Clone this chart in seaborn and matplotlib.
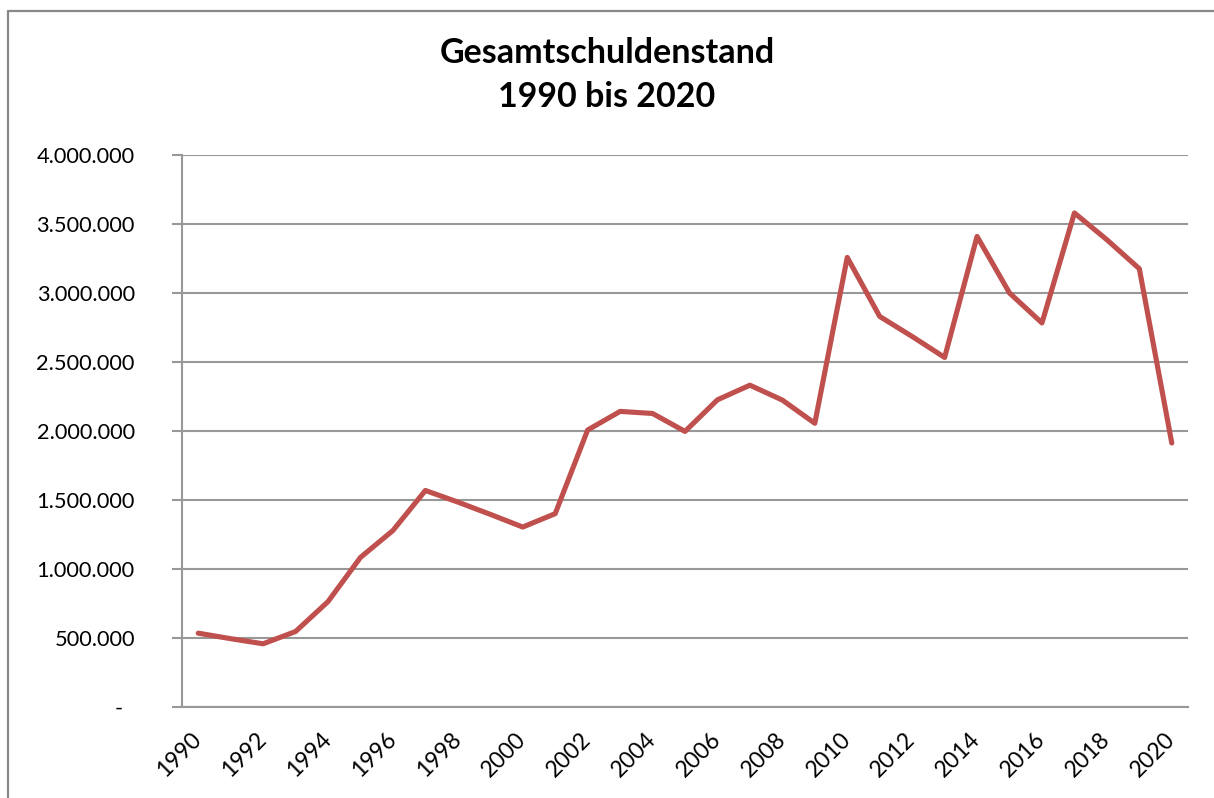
import matplotlib
matplotlib.use("Agg")
import matplotlib.pyplot as plt
import seaborn as sns
import pandas as pd
from matplotlib.ticker import FuncFormatter, FixedLocator
from matplotlib.lines import Line2D

years = list(range(1990, 2021))
values = [535000, 495000, 458000, 547000, 764000, 1084000, 1279000, 1569000,
          1485000, 1396000, 1304000, 1401000, 2007000, 2142000, 2127000, 1997000,
          2226000, 2332000, 2224000, 2056000, 3258000, 2830000, 2685000, 2533000,
          3410000, 3000000, 2783000, 3580000, 3386000, 3176000, 1913000]
title_text = "Gesamtschuldenstand\n1990 bis 2020"
label_years = list(range(1990, 2021, 2))

df = pd.DataFrame({"Jahr": years, "Schulden": values})

sns.set_style("white")
plt.rcParams["font.family"] = ["Lato", "DejaVu Sans"]
plt.rcParams["text.color"] = "black"

W, H = 1214, 798
fig = plt.figure(figsize=(W / 100, H / 100), dpi=100)
ax = fig.add_axes([182 / W, 1 - 707 / H, (1188 - 182) / W, (707 - 155) / H])

grid_c = "#989898"
sns.lineplot(data=df, x="Jahr", y="Schulden", ax=ax, color="#C0504D",
             linewidth=3.7, solid_joinstyle="round", solid_capstyle="round",
             zorder=3)

ax.set_xlim(1989.5, 2020.5)
ax.set_ylim(0, 4000000)

ax.yaxis.set_major_locator(FixedLocator(range(0, 4000001, 500000)))
ax.yaxis.set_major_formatter(FuncFormatter(
    lambda v, p: "-  " if v == 0 else f"{v:,.0f}".replace(",", ".")))
ax.grid(axis="y", color=grid_c, linewidth=1.5, zorder=1)
ax.grid(axis="x", visible=False)

ax.set_xticks(label_years)
ax.set_xticklabels([str(y) for y in label_years])
ax.set_xticks([y - 0.5 for y in years] + [2020.5], minor=True)
ax.tick_params(axis="x", which="major", length=0, pad=21, labelsize=16.5,
               labelcolor="black")
ax.tick_params(axis="x", which="minor", length=7, width=1.5, color=grid_c,
               direction="out")
for lab in ax.get_xticklabels():
    lab.set_rotation(45)
    lab.set_ha("right")
    lab.set_va("center")
    lab.set_rotation_mode("anchor")

ax.tick_params(axis="y", which="major", length=7, width=1.5, color=grid_c,
               pad=27, labelsize=15.7, labelcolor="black", left=True)

for s in ["top", "right"]:
    ax.spines[s].set_visible(False)
for s in ["left", "bottom"]:
    ax.spines[s].set_color(grid_c)
    ax.spines[s].set_linewidth(1.5)
    ax.spines[s].set_zorder(2)

ax.set_xlabel("")
ax.set_ylabel("")

fig.text(0.5, 1 - 75 / H, title_text, color="black",
         ha="center", va="center", fontsize=24.5, fontweight="bold",
         linespacing=1.48)

# chart area border (top and left)
fig.add_artist(Line2D([8 / W, 1.0], [1 - 11 / H, 1 - 11 / H],
                      transform=fig.transFigure, color="#888888", linewidth=1.6))
fig.add_artist(Line2D([8 / W, 8 / W], [1 - 11 / H, 0.0],
                      transform=fig.transFigure, color="#888888", linewidth=1.6))

fig.savefig("out.png", dpi=100, facecolor="white")
